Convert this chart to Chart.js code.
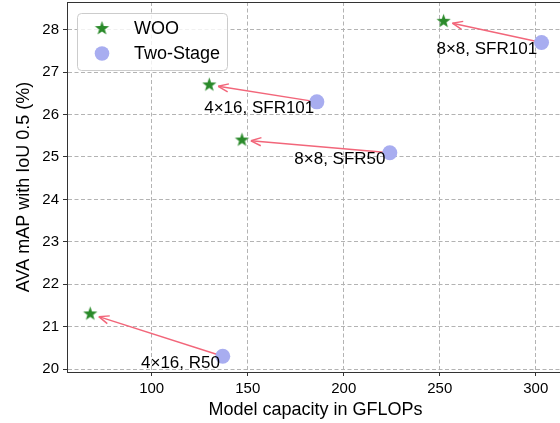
<!DOCTYPE html>
<html>
<head>
<meta charset="utf-8">
<script src="https://cdn.jsdelivr.net/npm/chart.js@4"></script>
<style>
  html, body { margin: 0; padding: 0; background: #fff; overflow: hidden; }
  canvas { display: block; }
</style>
</head>
<body>
<canvas id="chart" width="570" height="423"></canvas>
<script>
const configs = ["4×16, R50", "4×16, SFR101", "8×8, SFR50", "8×8, SFR101"];
const wooGflops = [68, 130, 147, 252];
const wooMap = [21.3, 26.7, 25.4, 28.2];
const twoStageGflops = [137, 186, 224, 303];
const twoStageMap = [20.3, 26.3, 25.1, 27.7];
// where each config name sits, in data units
const labelGflops = [115, 156, 198, 274.5];
const labelMap = [20.14, 26.15, 24.95, 27.54];
const xTicks = [100, 150, 200, 250, 300];
const yTicks = [20, 21, 22, 23, 24, 25, 26, 27, 28];

const FONT = "'Liberation Sans', Arial, Helvetica, sans-serif";
const GREEN = "#2a8a2a";
const LAVENDER = "rgb(168, 173, 240)";
const ARROW = "#f2667a";

function starImage(radius, color) {
  const size = Math.ceil(radius * 2 + 2);
  const c = document.createElement("canvas");
  c.width = size;
  c.height = size;
  const ctx = c.getContext("2d");
  const cx = size / 2, cy = size / 2;
  ctx.beginPath();
  for (let i = 0; i < 10; i++) {
    const r = i % 2 === 0 ? radius : radius * 0.4;
    const a = -Math.PI / 2 + i * Math.PI / 5;
    const px = cx + r * Math.cos(a), py = cy + r * Math.sin(a);
    if (i === 0) ctx.moveTo(px, py); else ctx.lineTo(px, py);
  }
  ctx.closePath();
  ctx.fillStyle = color;
  ctx.fill();
  return c;
}

const star = starImage(7.5, GREEN);

function fixedTicks(values) {
  return (scale) => { scale.ticks = values.map((v) => ({ value: v })); };
}

const annotate = {
  id: "annotate",
  beforeDatasetsDraw(chart) {
    const { ctx, chartArea } = chart;
    const xs = chart.scales.x, ys = chart.scales.y;
    ctx.save();
    // top frame line
    ctx.strokeStyle = "#333";
    ctx.lineWidth = 1;
    ctx.beginPath();
    ctx.moveTo(chartArea.left, chartArea.top + 0.5);
    ctx.lineTo(chartArea.right, chartArea.top + 0.5);
    ctx.stroke();
    // arrows from two-stage to WOO
    ctx.strokeStyle = ARROW;
    ctx.lineWidth = 1.5;
    for (let i = 0; i < configs.length; i++) {
      const sx = xs.getPixelForValue(twoStageGflops[i]);
      const sy = ys.getPixelForValue(twoStageMap[i]);
      const tx = xs.getPixelForValue(wooGflops[i]);
      const ty = ys.getPixelForValue(wooMap[i]);
      const dx = tx - sx, dy = ty - sy;
      const len = Math.hypot(dx, dy);
      const ux = dx / len, uy = dy / len;
      const hx = tx - ux * 9, hy = ty - uy * 9;
      ctx.beginPath();
      ctx.moveTo(sx, sy);
      ctx.lineTo(hx, hy);
      ctx.stroke();
      const ang = Math.atan2(dy, dx);
      ctx.beginPath();
      for (const s of [-1, 1]) {
        const a = ang + Math.PI + s * 0.38;
        ctx.moveTo(hx + Math.cos(a) * 11, hy + Math.sin(a) * 11);
        ctx.lineTo(hx, hy);
      }
      ctx.stroke();
    }
    ctx.restore();
  },
  afterDatasetsDraw(chart) {
    const { ctx } = chart;
    const xs = chart.scales.x, ys = chart.scales.y;
    ctx.save();
    ctx.fillStyle = "#000";
    ctx.font = `17px ${FONT}`;
    ctx.textAlign = "center";
    ctx.textBaseline = "middle";
    configs.forEach((name, i) => {
      ctx.fillText(name, xs.getPixelForValue(labelGflops[i]), ys.getPixelForValue(labelMap[i]));
    });
    // legend
    const bx = 77, by = 13, bw = 150, bh = 57;
    ctx.beginPath();
    ctx.roundRect(bx + 0.5, by + 0.5, bw, bh, 4);
    ctx.fillStyle = "rgba(255,255,255,0.8)";
    ctx.fill();
    ctx.strokeStyle = "#cccccc";
    ctx.lineWidth = 1;
    ctx.stroke();
    ctx.drawImage(star, 102 - star.width / 2, 28.5 - star.height / 2);
    ctx.beginPath();
    ctx.arc(102, 53.5, 7.3, 0, Math.PI * 2);
    ctx.fillStyle = LAVENDER;
    ctx.fill();
    ctx.fillStyle = "#000";
    ctx.font = `18px ${FONT}`;
    ctx.textAlign = "left";
    chart.data.datasets.forEach((ds, i) => {
      ctx.fillText(ds.label, 134, 29 + i * 25);
    });
    ctx.restore();
  },
};

const gridOpts = {
  color: "#b3b3b3",
  lineWidth: 1,
  drawTicks: true,
  tickLength: 4,
  tickColor: "#333",
  tickWidth: 1,
  tickBorderDash: [],
};

new Chart(document.getElementById("chart"), {
  type: "scatter",
  data: {
    datasets: [
      {
        label: "WOO",
        data: wooGflops.map((x, i) => ({ x, y: wooMap[i] })),
        pointStyle: star,
        backgroundColor: GREEN,
        borderWidth: 0,
      },
      {
        label: "Two-Stage",
        data: twoStageGflops.map((x, i) => ({ x, y: twoStageMap[i] })),
        pointStyle: "circle",
        pointRadius: 7.5,
        backgroundColor: LAVENDER,
        borderWidth: 0,
      },
    ],
  },
  options: {
    responsive: false,
    animation: false,
    events: [],
    layout: { autoPadding: false, padding: { top: 2, right: 6, left: 0, bottom: 0 } },
    plugins: { legend: { display: false }, tooltip: { enabled: false } },
    scales: {
      x: {
        type: "linear",
        min: 55.9,
        max: 314.7,
        afterBuildTicks: fixedTicks(xTicks),
        afterFit: (s) => { s.height = 51; s.paddingLeft = 0; s.paddingRight = 0; },
        grid: gridOpts,
        border: { display: true, color: "#333", width: 1, dash: [4, 2.5] },
        ticks: { color: "#000", padding: 4, font: { family: FONT, size: 15 } },
        title: {
          display: true,
          text: "Model capacity in GFLOPs",
          color: "#000",
          padding: { top: 0, bottom: 2 },
          font: { family: FONT, size: 18 },
        },
      },
      y: {
        type: "linear",
        min: 19.93,
        max: 28.655,
        afterBuildTicks: fixedTicks(yTicks),
        afterFit: (s) => { s.width = 67; s.paddingTop = 0; s.paddingBottom = 0; },
        grid: gridOpts,
        border: { display: true, color: "#333", width: 1, dash: [4, 2.5] },
        ticks: { color: "#000", padding: 4, font: { family: FONT, size: 15 } },
        title: {
          display: true,
          text: "AVA mAP with IoU 0.5 (%)",
          color: "#000",
          padding: { top: 13, bottom: 0 },
          font: { family: FONT, size: 18 },
        },
      },
    },
  },
  plugins: [annotate],
});
</script>
</body>
</html>
